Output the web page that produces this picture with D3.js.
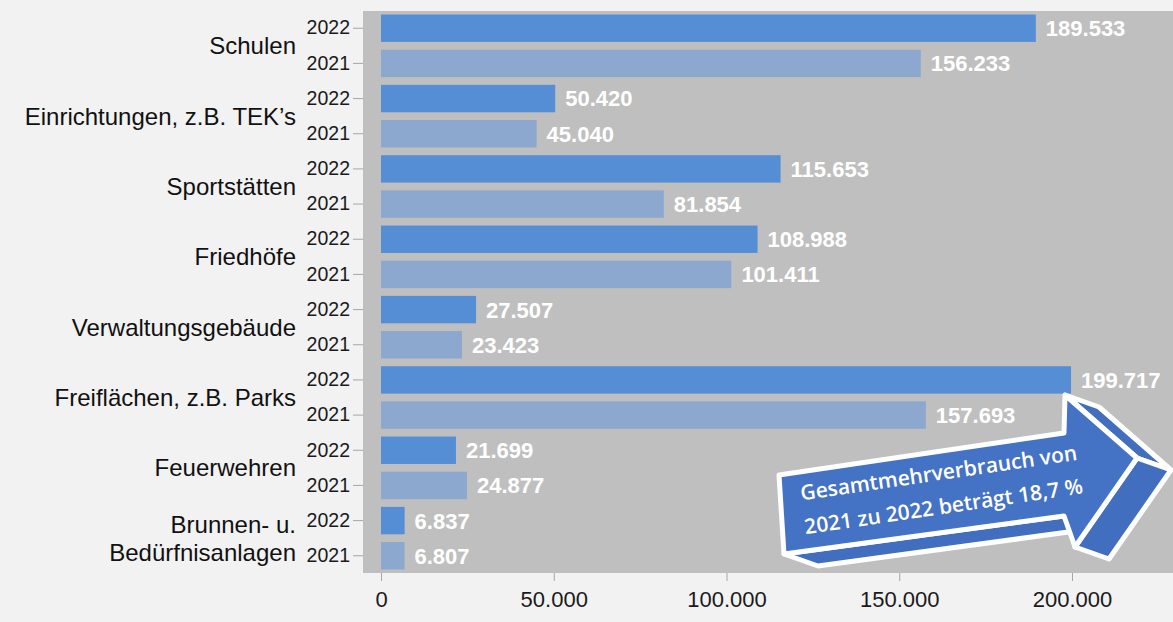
<!DOCTYPE html>
<html>
<head>
<meta charset="utf-8">
<script src="https://cdn.jsdelivr.net/npm/d3@7"></script>
<style>
  html, body { margin: 0; padding: 0; background: #f2f2f2; }
  svg { display: block; }
  .sans { font-family: "Liberation Sans", Arial, Helvetica, sans-serif; }
  .note { font-family: "Open Sans", sans-serif; }
</style>
</head>
<body>
<svg id="chart" width="1173" height="622"></svg>
<script>
// Stromverbrauch je Liegenschaftsart (kWh), 2022 gegenüber 2021
const categories = [
  "Schulen",
  "Einrichtungen, z.B. TEK’s",
  "Sportstätten",
  "Friedhöfe",
  "Verwaltungsgebäude",
  "Freiflächen, z.B. Parks",
  "Feuerwehren",
  "Brunnen- u.\nBedürfnisanlagen"
];
const years = ["2022", "2021"];
const values2022 = [189533, 50420, 115653, 108988, 27507, 199717, 21699, 6837];
const values2021 = [156233, 45040, 81854, 101411, 23423, 157693, 24877, 6807];
const xTicks = [0, 50000, 100000, 150000, 200000];
const noteLines = ["Gesamtmehrverbrauch von", "2021 zu 2022 beträgt 18,7 %"];

const de = d3.formatLocale({ decimal: ",", thousands: ".", grouping: [3], currency: ["", " €"] });
const fmt = de.format(",d");

const svg = d3.select("#chart");
const plot = { left: 363, top: 11, right: 1173, bottom: 573 };

const rows = [];
categories.forEach((c, i) => {
  rows.push({ cat: c, year: "2022", value: values2022[i], key: i + "-2022" });
  rows.push({ cat: c, year: "2021", value: values2021[i], key: i + "-2021" });
});

const x = d3.scaleLinear().domain([0, 200000]).range([381, 1072]);
const y = d3.scaleBand().domain(rows.map(r => r.key)).range([plot.top, plot.bottom])
  .paddingInner(0.22).paddingOuter(0.1);
const color = d3.scaleOrdinal().domain(years).range(["#568ed6", "#8ca8cf"]);

// plot background
svg.append("rect")
  .attr("x", plot.left).attr("y", plot.top)
  .attr("width", plot.right - plot.left).attr("height", plot.bottom - plot.top)
  .attr("fill", "#bfbfbf");

// bars
svg.append("g").selectAll("rect").data(rows).join("rect")
  .attr("x", x(0))
  .attr("y", d => y(d.key))
  .attr("width", d => x(d.value) - x(0))
  .attr("height", y.bandwidth())
  .attr("fill", d => color(d.year));

// value labels
svg.append("g").attr("class", "sans").selectAll("text").data(rows).join("text")
  .attr("x", d => x(d.value) + 10)
  .attr("y", d => y(d.key) + y.bandwidth() / 2)
  .attr("dy", "0.36em")
  .attr("fill", "#ffffff")
  .style("font-weight", "bold")
  .style("font-size", "22px")
  .text(d => fmt(d.value));

// year axis
const yAxis = d3.axisLeft(y).tickSize(10).tickPadding(3)
  .tickFormat(k => rows.find(r => r.key === k).year);
const gy = svg.append("g").attr("transform", `translate(${plot.left},0)`).call(yAxis);
gy.attr("font-family", null).attr("font-size", null).attr("class", "sans");
gy.select(".domain").remove();
gy.selectAll(".tick line").attr("stroke", "#a6a6a6");
gy.selectAll(".tick text").style("font-size", "19.5px").attr("fill", "#1a1a1a");

// category labels
const catG = svg.append("g").attr("class", "sans")
  .style("font-size", "24px").attr("fill", "#111111").attr("text-anchor", "end");
categories.forEach((c, i) => {
  const y0 = y(i + "-2022"), y1 = y(i + "-2021") + y.bandwidth();
  const cy = (y0 + y1) / 2;
  const lines = c.split("\n");
  const t = catG.append("text").attr("x", 296).attr("y", cy);
  lines.forEach((ln, j) => {
    t.append("tspan").attr("x", 296)
      .attr("dy", j === 0 ? ((0.35 - (lines.length - 1) * 0.58) + "em") : "1.16em")
      .text(ln);
  });
});

// value axis
const xAxis = d3.axisBottom(x).tickValues(xTicks).tickSize(8).tickPadding(10).tickFormat(fmt);
const gx = svg.append("g").attr("transform", `translate(0,${plot.bottom})`).call(xAxis);
gx.attr("font-family", null).attr("font-size", null).attr("class", "sans");
gx.select(".domain").remove();
gx.selectAll(".tick line").attr("stroke", "#a6a6a6");
gx.selectAll(".tick text").style("font-size", "22px").attr("fill", "#1a1a1a");

// annotation arrow (3D block arrow: front face plus extruded sides)
const arrow = svg.append("g");
const face = [[779,475],[1064,433],[1065,395],[1137,458],[1075,547],[1064,516],[784,554]];
const off = [34, 12];
const ext = p => [p[0] + off[0], p[1] + off[1]];
const sides = [
  [face[5], face[6], ext(face[6]), ext(face[5])],
  [face[2], face[3], ext(face[3]), ext(face[2])],
  [face[3], face[4], ext(face[4]), ext(face[3])]
];
const line = d3.line().curve(d3.curveLinearClosed);
arrow.selectAll("path.side").data(sides).join("path")
  .attr("class", "side")
  .attr("d", d => line(d))
  .attr("fill", "#416ebf")
  .attr("stroke", "#ffffff").attr("stroke-width", 5).attr("stroke-linejoin", "round");
arrow.append("path")
  .attr("d", line(face))
  .attr("fill", "#4472c4")
  .attr("stroke", "#ffffff").attr("stroke-width", 5).attr("stroke-linejoin", "round");

const note = arrow.append("text").attr("class", "note")
  .attr("transform", "translate(941,489) rotate(-8.4)")
  .attr("text-anchor", "middle")
  .style("font-weight", 600)
  .style("font-size", "21px")
  .attr("fill", "#ffffff");
noteLines.forEach((ln, j) => {
  note.append("tspan").attr("x", 0).attr("y", j * 34 - 9).text(ln);
});
</script>
</body>
</html>
